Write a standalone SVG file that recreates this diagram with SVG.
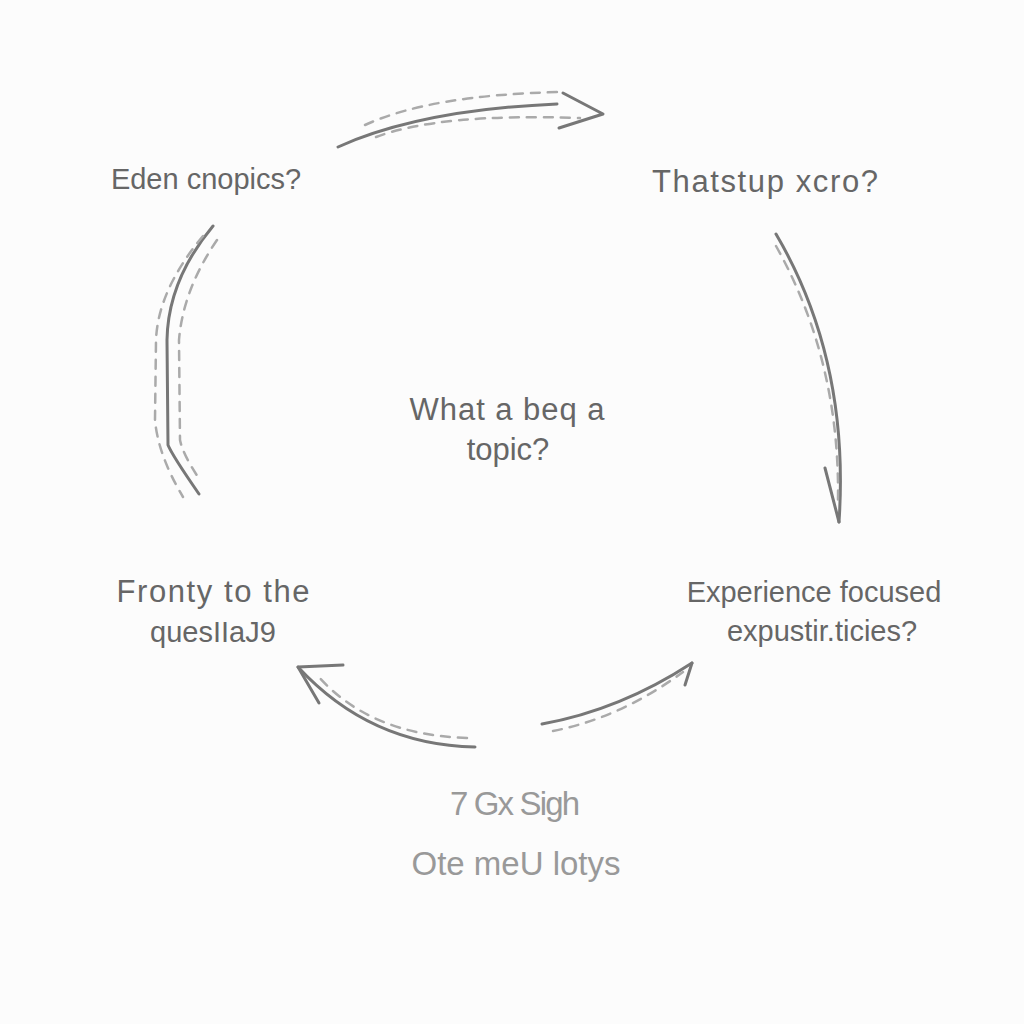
<svg xmlns="http://www.w3.org/2000/svg" width="1024" height="1024" viewBox="0 0 1024 1024">
<style>
.t{font-family:"Liberation Sans","DejaVu Sans",sans-serif;fill:#666;font-size:29px;text-anchor:middle}
.b{font-family:"Liberation Sans","DejaVu Sans",sans-serif;fill:#999;font-size:33px;text-anchor:middle}
.s{fill:none;stroke:#777;stroke-width:3;stroke-linecap:round;stroke-linejoin:round}
.d{fill:none;stroke:#aaa;stroke-width:2.5;stroke-dasharray:9 8;stroke-linecap:round}
</style>
<rect width="1024" height="1024" fill="#fcfcfc"/>
<g id="connectors">
  <g id="arrow-top">
    <path class="s" d="M338,147 Q420,110 557,104"/>
    <path class="s" d="M563,93 L603,114 L559,128"/>
    <path class="d" d="M365,125 Q430,95 560,92"/>
    <path class="d" d="M376,137 Q440,113 580,118"/>
  </g>
  <g id="arrow-right">
    <path class="s" d="M776,234 Q850,360 839,522"/>
    <path class="s" d="M825,468 L839,522"/>
    <path class="d" d="M776,246 Q840,360 838,500"/>
  </g>
  <g id="arc-left">
    <path class="s" d="M213,226 Q168,280 167,340 L168,445 Q172,455 199,494"/>
    <path class="d" d="M203,236 Q158,290 156,340 L155,420 Q158,455 183,497"/>
    <path class="d" d="M217,240 Q183,290 179,340 L180,440 Q183,455 200,480"/>
  </g>
  <g id="arrow-bottom-left">
    <path class="s" d="M475,747 Q370,745 298,667"/>
    <path class="s" d="M343,665 L298,667 L319,703"/>
    <path class="d" d="M467,738 Q370,735 318,676"/>
  </g>
  <g id="arrow-bottom-right">
    <path class="s" d="M542,724 Q620,710 692,663"/>
    <path class="s" d="M692,663 L685,685"/>
    <path class="d" d="M553,731 Q620,718 683,672"/>
  </g>
</g>
<g id="node-top-left"><text class="t" x="206" y="189">Eden cnopics?</text></g>
<g id="node-top-right"><text class="t" x="765" y="192" style="font-size:31px" textLength="226">Thatstup xcro?</text></g>
<g id="node-center"><text class="t" x="507" y="420" style="font-size:31px" textLength="195">What a beq a</text><text class="t" x="508" y="460" style="font-size:31px">topic?</text></g>
<g id="node-bottom-left"><text class="t" x="213" y="602" style="font-size:31px" textLength="193">Fronty to the</text><text class="t" x="213" y="642">quesIIaJ9</text></g>
<g id="node-bottom-right"><text class="t" x="814" y="602">Experience focused</text><text class="t" x="822" y="641">expustir.ticies?</text></g>
<g id="node-bottom"><text class="b" x="515" y="815" textLength="130">7 Gx Sigh</text><text class="b" x="516" y="875">Ote meU lotys</text></g>
</svg>
